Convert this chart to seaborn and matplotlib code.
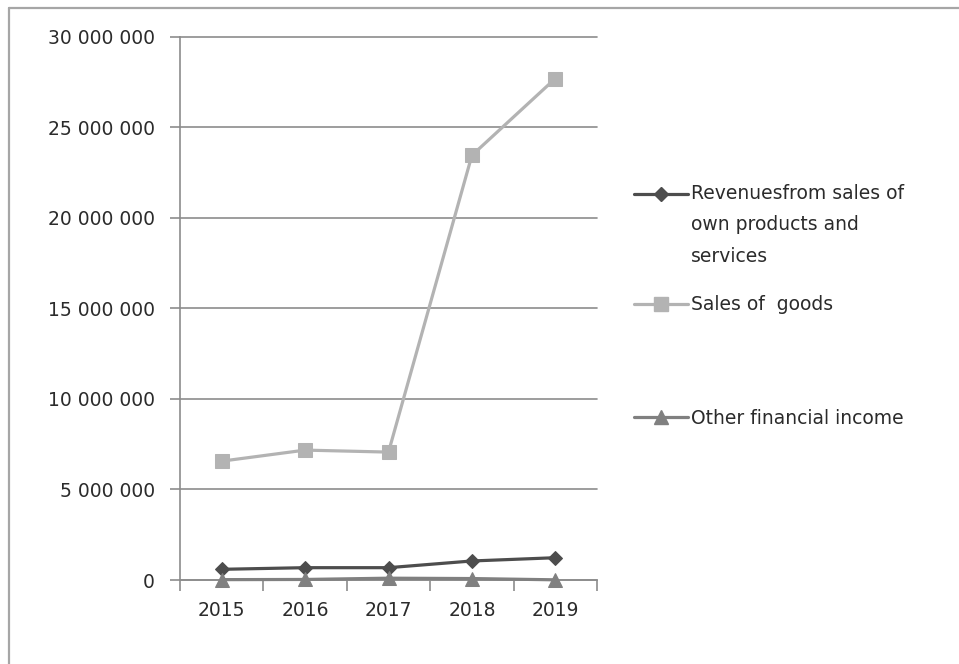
import matplotlib
matplotlib.use("Agg")
import numpy as np
import matplotlib.pyplot as plt
from matplotlib.lines import Line2D
from matplotlib.legend_handler import HandlerLine2D
from matplotlib.ticker import FuncFormatter, FixedLocator
import seaborn as sns
import pandas as pd

years = ["2015", "2016", "2017", "2018", "2019"]
revenues_own = [590_000, 680_000, 680_000, 1_050_000, 1_230_000]
sales_goods = [6_560_000, 7_170_000, 7_060_000, 23_440_000, 27_680_000]
other_fin_income = [20_000, 30_000, 100_000, 80_000, 10_000]

series_names = [
    "Revenuesfrom sales of\nown products and\nservices",
    "Sales of  goods",
    "Other financial income",
]
series_values = [revenues_own, sales_goods, other_fin_income]
colors = ["#4d4d4d", "#b3b3b3", "#808080"]
markers = ["D", "s", "^"]
marker_sizes = [6.8, 9.5, 9.5]

rows = []
for name, vals in zip(series_names, series_values):
    for i, (yr, v) in enumerate(zip(years, vals)):
        rows.append({"pos": i, "year": yr, "value": v, "series": name})
df = pd.DataFrame(rows)

sns.set_theme(style="white")
plt.rcParams["font.family"] = ["DejaVu Sans"]

FS = 13.5
TXT = "#2b2b2b"

fig = plt.figure(figsize=(9.59, 6.64), dpi=100)
ax = fig.add_axes([180 / 959, 84 / 664, 417 / 959, 543.5 / 664])

for name, col, mk, ms in zip(series_names, colors, markers, marker_sizes):
    sub = df[df["series"] == name]
    sns.lineplot(data=sub, x="pos", y="value", ax=ax, color=col, linewidth=2.3,
                 marker=mk, markersize=ms, markeredgecolor=col, markerfacecolor=col,
                 legend=False, zorder=3)
for ln in ax.lines:
    ln.set_clip_on(False)

ax.set_xlim(-0.5, 4.5)
ax.set_ylim(0, 30_000_000)
ax.set_xlabel("")
ax.set_ylabel("")

# y axis: gridlines every 5 million, space as thousands separator
yt = list(range(0, 30_000_001, 5_000_000))
ax.yaxis.set_major_locator(FixedLocator(yt))
ax.yaxis.set_major_formatter(FuncFormatter(lambda v, p: f"{int(v):,}".replace(",", " ")))
ax.grid(axis="y", color="#8c8c8c", linewidth=1.2)
ax.grid(axis="x", visible=False)
ax.set_axisbelow(True)
for gl in ax.get_ygridlines():
    gl.set_clip_on(False)

# x axis: tick marks at category boundaries, labels centred on categories
ax.xaxis.set_major_locator(FixedLocator([-0.5, 0.5, 1.5, 2.5, 3.5, 4.5]))
ax.xaxis.set_major_formatter(FuncFormatter(lambda v, p: ""))
ax.xaxis.set_minor_locator(FixedLocator(range(len(years))))
ax.set_xticklabels(years, minor=True)
ax.tick_params(axis="x", which="major", direction="out", length=8, width=1.2,
               color="#8c8c8c", bottom=True)
ax.tick_params(axis="x", which="minor", length=0, pad=15, labelsize=FS,
               labelcolor=TXT, bottom=True)
ax.tick_params(axis="y", direction="out", length=7, width=1.2, color="#8c8c8c",
               left=True, pad=11, labelsize=FS, labelcolor=TXT)

for s in ["top", "right"]:
    ax.spines[s].set_visible(False)
for s in ["left", "bottom"]:
    ax.spines[s].set_color("#8c8c8c")
    ax.spines[s].set_linewidth(1.2)


class FirstLineHandler(HandlerLine2D):
    """Line handle lifted so it sits beside the first line of a wrapped label."""

    def __init__(self, dy, **kw):
        super().__init__(**kw)
        self.dy = dy

    def create_artists(self, legend, orig_handle, xdescent, ydescent, width,
                       height, fontsize, trans):
        arts = super().create_artists(legend, orig_handle, xdescent, ydescent,
                                      width, height, fontsize, trans)
        for a in arts:
            a.set_ydata(np.asarray(a.get_ydata(), dtype=float) + self.dy)
        return arts


# legend entries, one per series, stacked at the right
line_gap_pt = 32 * 72 / 100
legend_y = [225 / 664, 305 / 664, 418 / 664]
for name, col, mk, ms, ly in zip(series_names, colors, markers, marker_sizes, legend_y):
    n_lines = name.count("\n") + 1
    h = Line2D([], [], color=col, linewidth=2.3, marker=mk, markersize=ms,
               markeredgecolor=col, markerfacecolor=col)
    leg = fig.legend([h], [name], loc="center left",
                     bbox_to_anchor=(634 / 959, 1 - ly), frameon=False,
                     fontsize=FS, handlelength=2.9, handletextpad=0.15,
                     borderaxespad=0, borderpad=0,
                     handler_map={h: FirstLineHandler((n_lines - 1) / 2 * line_gap_pt)})
    for t in leg.get_texts():
        t.set_color(TXT)
        t.set_linespacing(1.86)

# chart area outline
fig.add_artist(Line2D([8.5 / 959, 1], [1 - 8 / 664, 1 - 8 / 664],
                      color="#a6a6a6", linewidth=1.6, transform=fig.transFigure))
fig.add_artist(Line2D([8.5 / 959, 8.5 / 959], [0, 1 - 8 / 664],
                      color="#a6a6a6", linewidth=1.6, transform=fig.transFigure))

fig.savefig("out.png", dpi=100, facecolor="white")
